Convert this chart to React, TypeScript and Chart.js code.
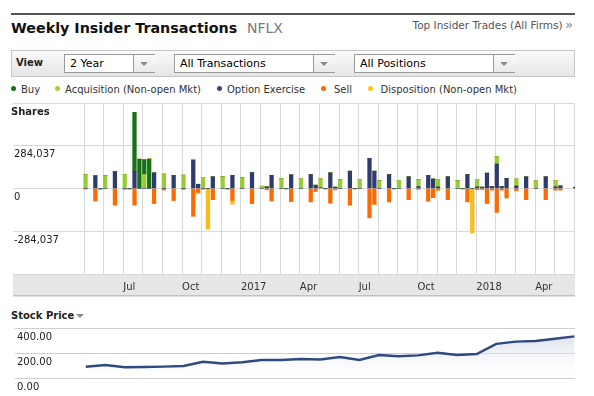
import React, { useEffect, useRef } from 'react';
import { Chart, registerables } from 'chart.js';

Chart.register(...registerables);

const FONT = '"DejaVu Sans", Verdana, sans-serif';

// Month axis: 0 = May 2016 ... 25 = Jun 2018
const monthTicks = [0, 1, 2, 3, 4, 5, 6, 7, 8, 9, 10, 11, 12, 13, 14, 15, 16, 17, 18, 19, 20, 21, 22, 23, 24, 25];
const monthLabels = ['', '', 'Jul', '', '', 'Oct', '', '', '2017', '', '', 'Apr', '', '', 'Jul', '', '', 'Oct', '', '', '2018', '', '', 'Apr', '', ''];

// Weekly bar slots
const weekIndex = [0, 2, 3, 4, 6, 8, 9, 10, 11, 12, 13, 14, 16, 18, 20, 22, 23, 24, 25, 26, 28, 29, 30, 32, 34, 36, 37, 38, 40, 41, 42, 44, 46, 47, 48, 49, 50, 51, 52, 54, 55, 56, 58, 59, 60, 62, 63, 64, 66, 68, 70, 71, 72, 74, 76, 77, 78, 79, 80, 81, 82, 83, 84, 85, 86, 88, 90, 92, 94, 96, 97, 100];
const optionExercise = [0, 85000, 0, 0, 113000, 0, 0, 115000, 0, 0, 0, 104000, 0, 87000, 0, 189000, 28000, 0, 0, 78000, 0, 0, 87000, 0, 106000, 0, 11000, 87000, 0, 0, 91000, 0, 93000, 22000, 5000, 0, 104000, 9000, 0, 115000, 0, 0, 200000, 115000, 0, 93000, 0, 0, 78000, 13000, 87000, 63000, 11000, 78000, 0, 0, 93000, 0, 11000, 9000, 102000, 13000, 163000, 13000, 67000, 17000, 78000, 0, 78000, 11000, 17000, 8000];
const acquisition = [93000, 0, 0, 85000, 0, 93000, 0, 0, 0, 93000, 0, 0, 96000, 0, 89000, 0, 0, 74000, 0, 0, 78000, 0, 0, 72000, 0, 15000, 0, 0, 65000, 0, 0, 63000, 0, 0, 58000, 0, 0, 0, 59000, 0, 0, 61000, 0, 0, 52000, 0, 0, 54000, 0, 46000, 0, 0, 48000, 0, 52000, 0, 0, 0, 46000, 0, 0, 0, 48000, 0, 0, 46000, 0, 50000, 0, 43000, 0, 0];
const buy = [0, 0, 0, 0, 0, 0, 0, 391000, 195000, 98000, 196000, 0, 0, 0, 0, 0, 0, 0, 0, 0, 0, 0, 0, 0, 0, 0, 0, 0, 0, 0, 0, 0, 0, 0, 0, 0, 0, 0, 0, 0, 0, 0, 0, 0, 0, 0, 0, 0, 0, 0, 0, 0, 0, 0, 0, 0, 0, 0, 0, 0, 0, 0, 0, 0, 0, 0, 0, 0, 0, 0, 0, 0];
const sell = [-3000, -83000, -5000, 0, -111000, -5000, -4000, -111000, 0, 0, 0, -100000, -10000, -80000, -6000, -185000, -26000, -5000, 0, -74000, 0, -4000, -80000, 0, -100000, 0, -9000, -83000, 0, -3000, -87000, 0, -89000, -20000, 0, -3000, -98000, -9000, 0, -111000, -3000, 0, -195000, -106000, 0, -89000, -3000, 0, -74000, -6000, -85000, -61000, -8000, -74000, 0, -3000, -89000, 0, -8000, -7000, -100000, -11000, -159000, -11000, -63000, -15000, -74000, 0, -74000, -11000, -11000, 0];
const disposition = [0, 0, 0, 0, 0, 0, 0, 0, 0, 0, 0, 0, 0, 0, 0, 0, -6000, 0, -271000, 0, 0, 0, -24000, 0, 0, 0, 0, 0, 0, 0, 0, 0, 0, 0, 0, 0, 0, 0, 0, 0, 0, 0, 0, 0, 0, 0, 0, 0, 0, 0, 0, 0, -6000, 0, 0, 0, 0, -295000, 0, 0, 0, 0, 0, 0, 0, 0, 0, 0, 0, 0, 0, 0];

const shareTicks = [-568074, -284037, 0, 284037, 568074];

// Stock price, monthly
const priceMonth = [0, 1, 2, 3, 4, 5, 6, 7, 8, 9, 10, 11, 12, 13, 14, 15, 16, 17, 18, 19, 20, 21, 22, 23, 24, 25];
const price = [90, 104, 86, 88, 91, 96, 130, 117, 126, 144, 144, 152, 149, 168, 144, 184, 175, 181, 202, 185, 192, 273, 291, 296, 314, 333];
const priceTicks = [0, 200, 400];

const COLORS = {
  buy: '#167016',
  acquisition: '#99cc33',
  option: '#2e3b6b',
  sell: '#ff6a00',
  disposition: '#ffbb11',
};

const X_MIN = -3.62;
const X_MAX = 25.03;
const W_MIN = -14.82;
const W_MAX = 99.98;

const bandPlugin = {
  id: 'axisBand',
  beforeDraw(chart: any) {
    const { ctx, chartArea } = chart;
    ctx.save();
    ctx.fillStyle = '#e6e6e6';
    ctx.fillRect(chartArea.left, chartArea.bottom, chartArea.right - chartArea.left, 22);
    ctx.fillStyle = '#c2c2c2';
    ctx.fillRect(chartArea.left, chartArea.bottom + 21, chartArea.right - chartArea.left, 1.5);
    ctx.restore();
  },
};

function mk(label: string, values: number[], color: string) {
  return {
    label,
    data: weekIndex.map((w, i) => ({ x: w, y: values[i] })),
    backgroundColor: color,
    borderWidth: 0,
    barThickness: 3.6,
    xAxisID: 'xw',
    yAxisID: 'y',
  };
}

function SharesChart() {
  const ref = useRef<HTMLCanvasElement>(null);
  useEffect(() => {
    const chart = new Chart(ref.current as HTMLCanvasElement, {
      type: 'bar',
      data: {
        datasets: [
          mk('Option Exercise', optionExercise, COLORS.option),
          mk('Acquisition (Non-open Mkt)', acquisition, COLORS.acquisition),
          mk('Buy', buy, COLORS.buy),
          mk('Sell', sell, COLORS.sell),
          mk('Disposition (Non-open Mkt)', disposition, COLORS.disposition),
        ] as any,
      },
      plugins: [bandPlugin],
      options: {
        animation: false,
        responsive: false,
        maintainAspectRatio: false,
        layout: { padding: { left: 11, right: 19, top: 6, bottom: 0 } },
        plugins: { legend: { display: false }, tooltip: { enabled: false } },
        scales: {
          x: {
            type: 'linear',
            min: X_MIN,
            max: X_MAX,
            offset: false,
            position: 'bottom',
            afterBuildTicks: (s: any) => {
              s.ticks = monthTicks.map((v) => ({ value: v }));
            },
            grid: { color: '#d9d9d9', drawTicks: false, offset: false },
            border: { display: false },
            ticks: {
              autoSkip: false,
              maxRotation: 0,
              align: 'start',
              padding: 7,
              color: '#333',
              font: { family: FONT, size: 10 },
              callback: (_v: any, i: number) => monthLabels[i] ?? '',
            },
          },
          xw: {
            type: 'linear',
            min: W_MIN,
            max: W_MAX,
            offset: false,
            grid: { offset: false },
            display: false,
            stacked: true,
          },
          y: {
            min: shareTicks[0],
            max: shareTicks[shareTicks.length - 1],
            stacked: true,
            afterBuildTicks: (s: any) => {
              s.ticks = shareTicks.map((v) => ({ value: v }));
            },
            grid: { color: '#d9d9d9', drawTicks: false },
            border: { display: false },
            ticks: {
              mirror: true,
              padding: 1,
              labelOffset: 9,
              color: '#222',
              font: { family: FONT, size: 10 },
              callback: (v: any) =>
                Math.abs(Number(v)) === shareTicks[shareTicks.length - 1] ? '' : Number(v).toLocaleString('en-US'),
            },
          },
        },
      } as any,
    });
    return () => chart.destroy();
  }, []);
  return (
    <canvas ref={ref} width={594} height={204} style={{ position: 'absolute', left: 0, top: 96, width: 594, height: 204 }} />
  );
}

function PriceChart() {
  const ref = useRef<HTMLCanvasElement>(null);
  useEffect(() => {
    const chart = new Chart(ref.current as HTMLCanvasElement, {
      type: 'line',
      data: {
        datasets: [
          {
            label: 'Stock Price',
            data: priceMonth.map((m, i) => ({ x: m, y: price[i] })),
            borderColor: '#2f4a80',
            borderWidth: 2.5,
            pointRadius: 0,
            tension: 0,
            fill: 'origin',
            backgroundColor: (c: any) => {
              const { chart: ch } = c;
              const area = ch.chartArea;
              if (!area) return 'rgba(0,0,0,0)';
              const g = ch.ctx.createLinearGradient(0, area.top, 0, area.bottom);
              g.addColorStop(0, 'rgba(195,200,222,0.75)');
              g.addColorStop(1, 'rgba(255,255,255,0.1)');
              return g;
            },
          },
        ] as any,
      },
      options: {
        animation: false,
        responsive: false,
        maintainAspectRatio: false,
        layout: { padding: { left: 11, right: 19, top: 8, bottom: 18 } },
        plugins: { legend: { display: false }, tooltip: { enabled: false } },
        scales: {
          x: { type: 'linear', min: X_MIN, max: X_MAX, offset: false, display: false },
          y: {
            min: priceTicks[0],
            max: priceTicks[priceTicks.length - 1],
            afterBuildTicks: (s: any) => {
              s.ticks = priceTicks.map((v) => ({ value: v }));
            },
            grid: { color: '#cfcfcf', drawTicks: false },
            border: { display: false },
            ticks: {
              mirror: true,
              padding: 2,
              labelOffset: 9,
              color: '#222',
              font: { family: FONT, size: 10 },
              callback: (v: any) => Number(v).toFixed(2),
            },
          },
        },
      } as any,
    });
    return () => chart.destroy();
  }, []);
  return (
    <canvas ref={ref} width={594} height={76} style={{ position: 'absolute', left: 0, top: 320, width: 594, height: 76 }} />
  );
}

const abs = (left: number, top: number, extra: any = {}) => ({
  position: 'absolute' as const,
  left,
  top,
  whiteSpace: 'nowrap' as const,
  ...extra,
});

function Arrow({ cx, cy }: { cx: number; cy: number }) {
  return (
    <div
      style={abs(cx - 4, cy - 2, {
        width: 0,
        height: 0,
        borderLeft: '4px solid transparent',
        borderRight: '4px solid transparent',
        borderTop: '4px solid #8c8c8c',
      })}
    />
  );
}

function Select({ left, right, sep, text }: { left: number; right: number; sep: number; text: string }) {
  return (
    <>
      <div
        style={abs(left, 54, {
          width: right - left - 2,
          height: 17,
          border: '1px solid #9a9a9a',
          background: '#fff',
        })}
      />
      <div style={abs(sep, 55, { width: right - sep - 1, height: 17, borderLeft: '1px solid #9a9a9a', background: 'linear-gradient(#fafafa,#e9e9e9)' })} />
      <Arrow cx={(sep + right) / 2} cy={64} />
      <div style={abs(left + 6, 57, { fontSize: 11, lineHeight: '13px', color: '#000' })}>{text}</div>
    </>
  );
}

const legendItems = [
  { label: 'Buy', color: COLORS.buy, dot: 13.3, text: 21 },
  { label: 'Acquisition (Non-open Mkt)', color: '#a6d13d', dot: 57.7, text: 65 },
  { label: 'Option Exercise', color: '#3b4677', dot: 219.3, text: 227 },
  { label: 'Sell', color: '#ff6a00', dot: 323, text: 334 },
  { label: 'Disposition (Non-open Mkt)', color: '#ffc61a', dot: 370, text: 380.5 },
];

export default function App() {
  return (
    <div
      style={{
        position: 'absolute',
        left: 0,
        top: 0,
        width: 594,
        height: 396,
        background: '#fff',
        fontFamily: FONT,
        overflow: 'hidden',
      }}
    >
      <div style={abs(11, 13, { width: 564, height: 2, background: '#555' })} />
      <div style={abs(11, 19.5, { fontSize: 14.3, lineHeight: '17px', fontWeight: 'bold', color: '#111' })}>
        Weekly Insider Transactions
      </div>
      <div style={abs(247, 20, { fontSize: 14, lineHeight: '16px', color: '#7a7a7a' })}>NFLX</div>
      <div style={abs(412.5, 19.4, { fontSize: 10.5, lineHeight: '12px', color: '#555' })}>Top Insider Trades (All Firms)</div>
      <div style={abs(565, 17, { fontSize: 13, lineHeight: '15px', color: '#888' })}>»</div>

      <div
        style={abs(11, 50, {
          width: 562,
          height: 25,
          border: '1px solid #c6c6c6',
          background: 'linear-gradient(#fbfbfb,#e5e5e5)',
        })}
      />
      <div style={abs(16, 57.3, { fontSize: 10, lineHeight: '12px', fontWeight: 'bold', color: '#222' })}>View</div>
      <Select left={64} right={155} sep={133} text="2 Year" />
      <Select left={174} right={335} sep={313} text="All Transactions" />
      <Select left={354} right={515} sep={493} text="All Positions" />

      {legendItems.map((it) => (
        <React.Fragment key={it.label}>
          <div
            style={abs(it.dot - 2.5, 86.3, {
              width: 5,
              height: 5,
              borderRadius: '50%',
              background: it.color,
            })}
          />
          <div style={abs(it.text, 83.5, { fontSize: 10, lineHeight: '12px', color: '#333' })}>{it.label}</div>
        </React.Fragment>
      ))}

      <SharesChart />
      <div style={abs(11, 106.3, { fontSize: 10, lineHeight: '12px', fontWeight: 'bold', color: '#222' })}>Shares</div>

      <div style={abs(11, 309.5, { fontSize: 10, lineHeight: '12px', fontWeight: 'bold', color: '#222' })}>Stock Price</div>
      <Arrow cx={80} cy={316} />
      <PriceChart />
    </div>
  );
}
